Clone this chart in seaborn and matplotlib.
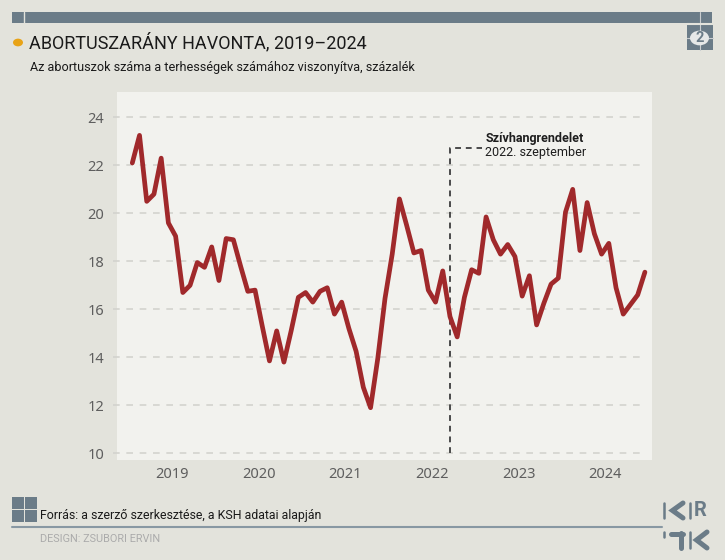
import matplotlib
matplotlib.use("Agg")
import matplotlib.pyplot as plt
import seaborn as sns
import pandas as pd
from matplotlib.patches import Rectangle, Circle
from matplotlib.lines import Line2D

# ---------------- data ----------------
years = ["2019", "2020", "2021", "2022", "2023", "2024"]
month_index = list(range(72))  # Jan 2019 ... Dec 2024
rate = [22.1, 23.25, 20.5, 20.8, 22.3, 19.6, 19.05, 16.7, 17.0, 17.95, 17.75, 18.6,
        17.2, 18.95, 18.9, 17.8, 16.75, 16.8, 15.3, 13.85, 15.1, 13.8, 15.1, 16.5,
        16.7, 16.3, 16.75, 16.9, 15.8, 16.3, 15.2, 14.25, 12.75, 11.9, 13.95, 16.45,
        18.3, 20.6, 19.5, 18.35, 18.45, 16.8, 16.3, 17.6, 15.7, 14.85, 16.5, 17.65,
        17.5, 19.85, 18.9, 18.3, 18.7, 18.2, 16.55, 17.4, 15.35, 16.25, 17.05, 17.3,
        20.05, 21.0, 18.45, 20.45, 19.15, 18.3, 18.75, 16.9, 15.8, 16.2, 16.6, 17.55]
y_ticks = [10, 12, 14, 16, 18, 20, 22, 24]
event_month = 44  # 2022. szeptember
event_title = "Szívhangrendelet"
event_sub = "2022. szeptember"

title = "ABORTUSZARÁNY HAVONTA, 2019–2024"
subtitle = "Az abortuszok száma a terhességek számához viszonyítva, százalék"
source = "Forrás: a szerző szerkesztése, a KSH adatai alapján"
design = "DESIGN: ZSUBORI ERVIN"
badge = "2"

df = pd.DataFrame({"month": month_index, "rate": rate})

# ---------------- style ----------------
sns.set_style("white")
plt.rcParams["font.family"] = ["Noto Sans", "DejaVu Sans"]

FIG_BG = "#E3E3DC"
AX_BG = "#F2F2EE"
BLUEGRAY = "#6B7C88"
LINE = "#A0292B"
W, H = 725, 560

fig = plt.figure(figsize=(W / 100, H / 100), dpi=100, facecolor=FIG_BG)

def fx(x):
    return x / W

def fy(y):
    return 1 - y / H

ax = fig.add_axes([fx(116.7), fy(460), (651.7 - 116.7) / W, (460 - 91.7) / H])
ax.set_facecolor(AX_BG)

sns.lineplot(data=df, x="month", y="rate", color=LINE, lw=3.4, ax=ax,
             solid_joinstyle="round", solid_capstyle="round")

ax.set_xlim(-2.16, 71.94)
ax.set_ylim(9.72, 25.07)
for s in ax.spines.values():
    s.set_visible(False)

ax.set_yticks(y_ticks)
ax.set_yticklabels([str(v) for v in y_ticks])
ax.tick_params(axis="y", length=0, pad=9, labelsize=10.5, labelcolor="#5E5E5E")
for v in y_ticks:
    ax.axhline(v, xmin=-0.007, xmax=0.987, color="#D3D3CE", lw=1.2,
               ls=(0, (4, 4)), zorder=0.5, clip_on=False)

sep = [0, 11.5, 23.5, 35.5, 47.5, 59.5, 71]
ax.set_xticks(sep)
ax.set_xticklabels([""] * len(sep))
ax.set_xticks([5.5 + 12 * k for k in range(len(years))], minor=True)
ax.set_xticklabels(years, minor=True)
ax.tick_params(axis="x", which="major", length=10, width=1.6, color="#CACAC4",
               direction="out")
ax.tick_params(axis="x", which="minor", length=0, pad=5, labelsize=10.5,
               labelcolor="#5E5E5E")
ax.set_xlabel("")
ax.set_ylabel("")

# annotation
ax.plot([event_month, event_month, 48.4], [10, 22.72, 22.72], color="#4A4A4A",
        lw=1.4, ls=(0, (3, 2.5)), zorder=1.5)
ax.text(48.9, 23.12, event_title, fontsize=9, fontweight="bold", color="#1E1E1E",
        va="center", ha="left", family=["Roboto", "DejaVu Sans"])
ax.text(48.9, 22.55, event_sub, fontsize=9, color="#1E1E1E", va="center",
        ha="left", family=["Roboto", "DejaVu Sans"])

# ---------------- frame decorations ----------------
def rect(x0, y0, x1, y1, color, **kw):
    fig.add_artist(Rectangle((fx(x0), fy(y1)), (x1 - x0) / W, (y1 - y0) / H,
                             transform=fig.transFigure, facecolor=color,
                             edgecolor="none", **kw))

def line(xs, ys, color, lw, **kw):
    fig.add_artist(Line2D([fx(x) for x in xs], [fy(y) for y in ys], color=color,
                          lw=lw, transform=fig.transFigure, **kw))

# top bar
rect(12, 12, 712, 23, BLUEGRAY)
line([24, 24], [12, 23], FIG_BG, 1)
# badge
rect(687, 25, 712.5, 50, BLUEGRAY)
line([700, 700], [12, 50], "#C9CDD0", 0.8)
line([687, 712.5], [24, 24], FIG_BG, 1.5)
line([687, 712.5], [37.7, 37.7], "#C9CDD0", 0.8)
fig.add_artist(Circle((fx(699.5), fy(38)), 9.5 / W, transform=fig.transFigure,
                      facecolor="#E6E8E8", edgecolor="none", zorder=5))
fig.text(fx(699.5), fy(38.5), badge, color=BLUEGRAY, fontsize=10.5,
         fontweight="bold", ha="center", va="center", zorder=6,
         family=["Roboto", "DejaVu Sans"])

# title
fig.add_artist(Circle((fx(18), fy(42.5)), 5 / W, transform=fig.transFigure,
                      facecolor="#E8A317", edgecolor="none"))
fig.text(fx(29.5), fy(43), title, fontsize=13, color="#1A1A1A", ha="left",
         va="center", family=["Roboto", "DejaVu Sans"])
fig.text(fx(30), fy(67), subtitle, fontsize=9.1, color="#1A1A1A", ha="left",
         va="center", family=["Roboto", "DejaVu Sans"])

# footer
for (x0, y0) in [(12, 497), (25, 497), (12, 510), (25, 510)]:
    rect(x0, y0, x0 + 11.5, y0 + 11.5, BLUEGRAY)
fig.text(fx(40), fy(515.5), source, fontsize=8.9, color="#1A1A1A", ha="left",
         va="center", family=["Roboto", "DejaVu Sans"])
line([12, 662], [526.5, 526.5], "#8898A3", 1.5)
fig.text(fx(40), fy(538.5), design, fontsize=7.8, color="#ABABAB", ha="left",
         va="center", family=["Roboto", "DejaVu Sans"])

# logo
line([664, 664], [503, 518], BLUEGRAY, 1.8)
line([683, 672.5, 683], [503, 510.5, 518], BLUEGRAY, 3.6, solid_joinstyle="miter")
line([689.5, 689.5], [503, 518], BLUEGRAY, 1.8)
fig.text(fx(700.5), fy(511), "R", fontsize=14.5, fontweight="bold", color=BLUEGRAY,
         ha="center", va="center", family=["Roboto", "DejaVu Sans"])
line([664, 664], [532, 537], BLUEGRAY, 1.8)
line([671, 683], [533.5, 533.5], BLUEGRAY, 3.6)
line([680.5, 680.5], [533, 548], BLUEGRAY, 3.6)
line([689.5, 689.5], [532, 548], BLUEGRAY, 1.8)
line([707, 696.5, 707], [532, 540, 548], BLUEGRAY, 3.6, solid_joinstyle="miter")

fig.savefig("out.png", dpi=100, facecolor=FIG_BG)
